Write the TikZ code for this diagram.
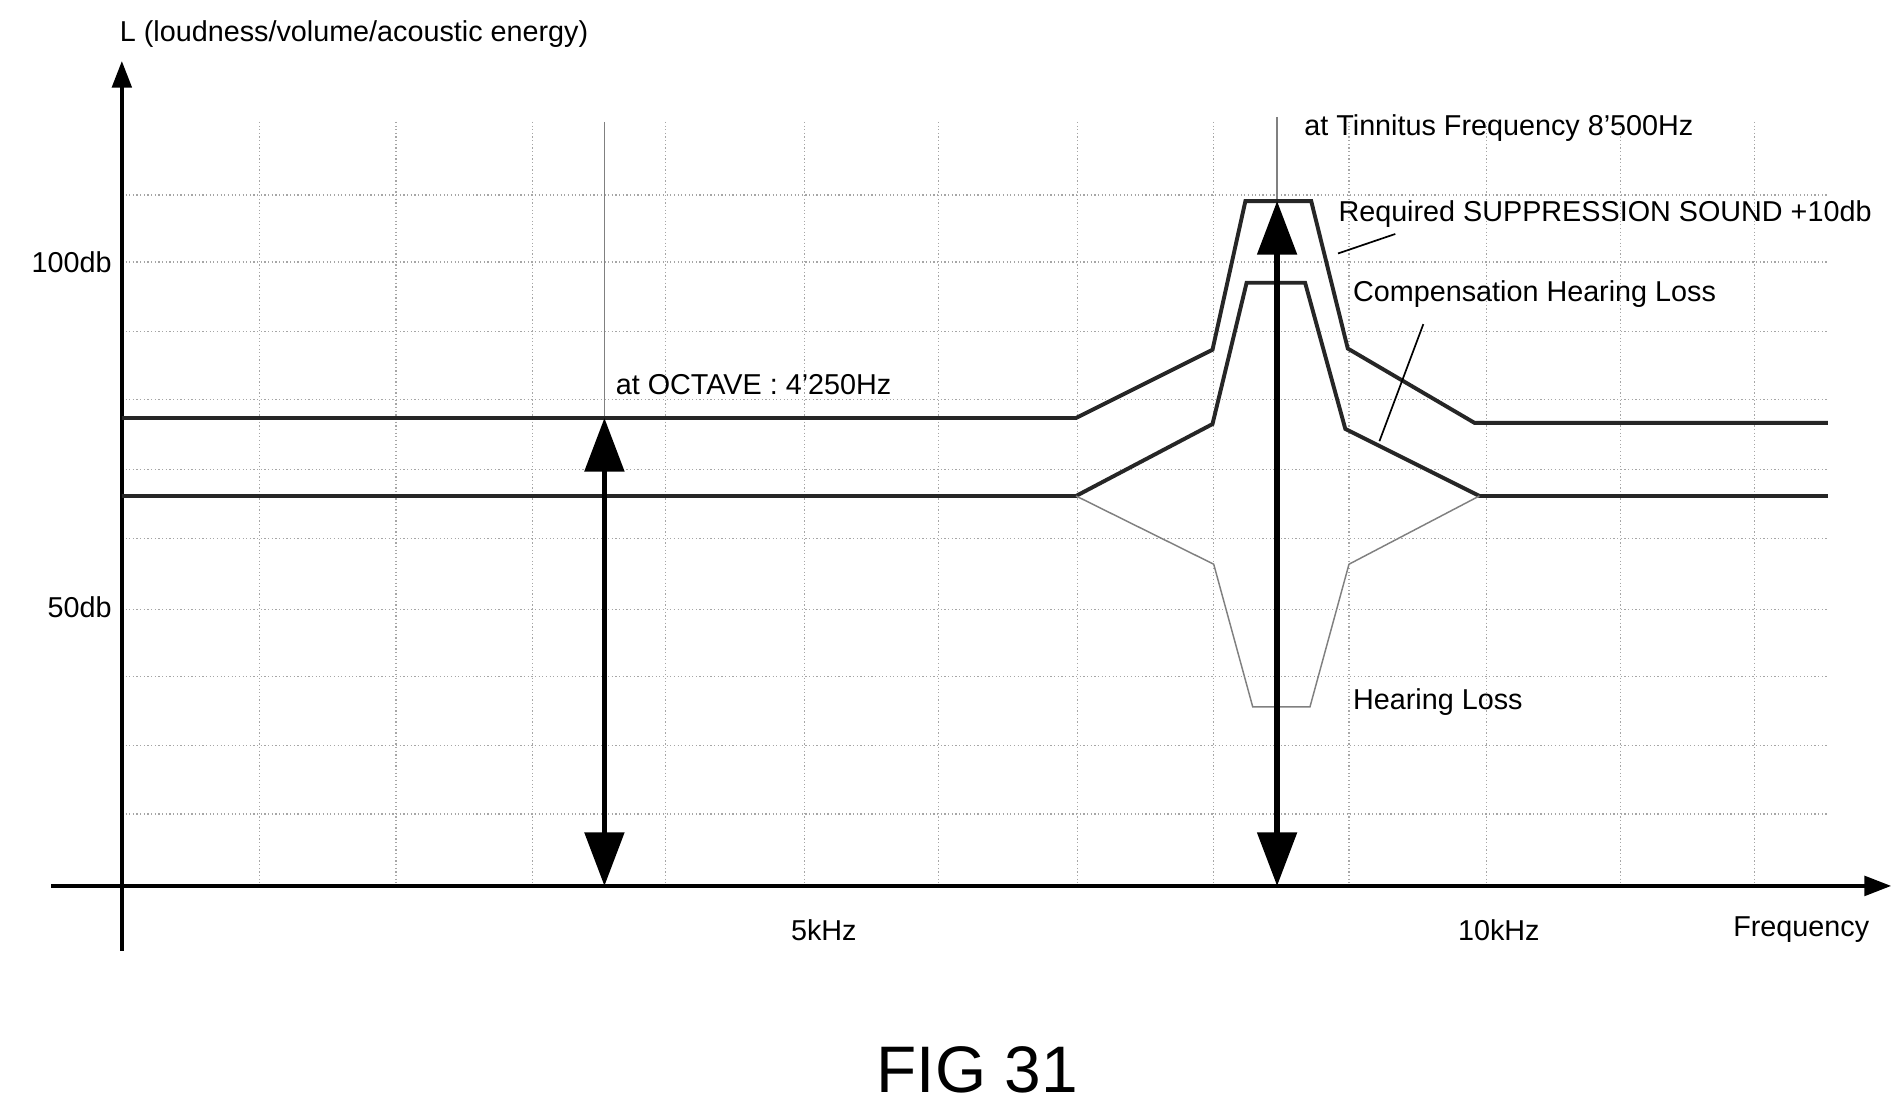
\documentclass[tikz,border=0pt]{standalone}
\usepackage{fontspec}
\setmainfont{Liberation Sans}
\usetikzlibrary{arrows.meta}
\begin{document}
\begin{tikzpicture}[x=0.5pt,y=-0.5pt,
  grid/.style={gray!70,densely dotted,line width=0.5pt},
  thick curve/.style={black!85,line width=1.6pt},
  thin curve/.style={gray,line width=0.6pt},
  axis/.style={line width=1.6pt,-{Triangle[length=11pt,width=8pt]}},
  bigarrow/.style={line width=2.2pt,{Triangle[length=22pt,width=16pt]}-{Triangle[length=22pt,width=16pt]}},
  lbl/.style={font=\fontsize{11.8}{14}\selectfont,inner sep=0pt},
  lead/.style={line width=0.7pt}]
\useasboundingbox (0,0) rectangle (1560,912);
\fill[white] (0,0) rectangle (1560,912);
% grid
\foreach \x in {213,325,437,546,660,770,884,996,1107,1220,1330,1440}
  \draw[grid] (\x,100) -- (\x,727);
\foreach \y in {160,215,272,328,385,442,500,555,612,668}
  \draw[grid] (100,\y) -- (1500,\y);
\draw[gray,line width=0.6pt] (496,100) -- (496,727);
\draw[gray,line width=0.6pt] (1048,96) -- (1048,727);
% axes
\coordinate (o) at (100,727);
\coordinate (ytop) at (100,50);
\coordinate (ybot) at (100,780);
\coordinate (xl) at (42,727);
\coordinate (xr) at (1552,727);
\draw[axis] (ybot) -- (ytop);
\draw[axis] (xl) -- (xr);
% curves
\draw[thick curve] (100,343) -- (883,343) -- (995,287) -- (1022,165) -- (1076,165) -- (1106,286) -- (1210,347) -- (1500,347);
\draw[thick curve] (100,407) -- (883,407) -- (995,348) -- (1023,232) -- (1071,232) -- (1104,352) -- (1214,407) -- (1500,407);
\draw[thin curve] (883,407) -- (996,463) -- (1028,580) -- (1075,580) -- (1107,463) -- (1214,407);
% double arrows
\coordinate (a1) at (496,343); \coordinate (a2) at (496,727);
\coordinate (b1) at (1048,165); \coordinate (b2) at (1048,727);
\draw[bigarrow] (a1) -- (a2);
\draw[bigarrow] (b1) -- (b2);
% labels
\node[lbl,anchor=west] (ylab) at (98,28) {L (loudness/volume/acoustic energy)};
\node[lbl,anchor=east] (l100) at (92,215) {100db};
\node[lbl,anchor=east] (l50) at (92,498) {50db};
\node[lbl,anchor=west] (oct) at (505,316) {at OCTAVE : 4'250Hz};
\node[lbl,anchor=west] (tin) at (1070,105) {at Tinnitus Frequency 8'500Hz};
\node[lbl,anchor=west] (req) at (1098,176) {Required SUPPRESSION SOUND +10db};
\node[lbl,anchor=west] (comp) at (1110,241) {Compensation Hearing Loss};
\node[lbl,anchor=west] (hl) at (1110,576) {Hearing Loss};
\node[lbl] (k5) at (676,763) {5kHz};
\node[lbl] (k10) at (1230,763) {10kHz};
\node[lbl,anchor=west] (fr) at (1422,763) {Frequency};
\node[inner sep=0pt,font=\fontsize{27}{30}\selectfont] (fig) at (802,878) {FIG 31};
% leaders
\coordinate (r1) at (1145,192); \coordinate (r2) at (1098,208);
\coordinate (c1) at (1168,266); \coordinate (c2) at (1132,362);
\draw[lead] (r1) -- (r2);
\draw[lead] (c1) -- (c2);
\end{tikzpicture}
\end{document}
